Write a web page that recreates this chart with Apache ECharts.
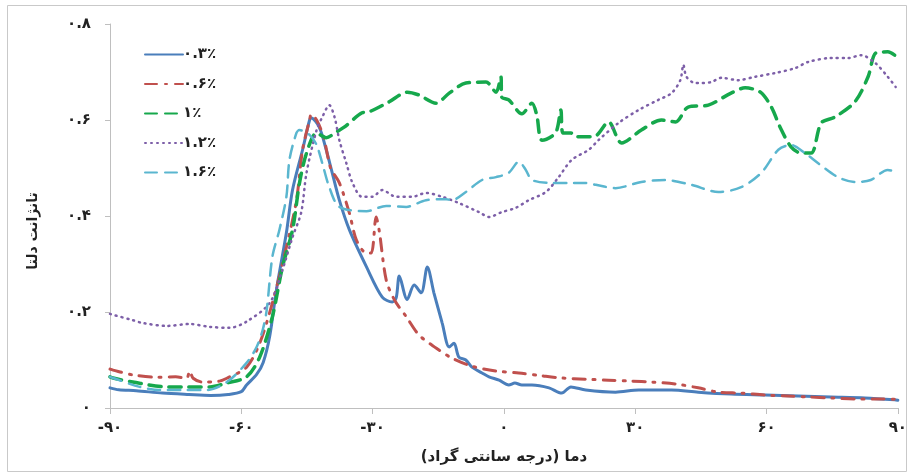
<!DOCTYPE html>
<html>
<head>
<meta charset="utf-8">
<script src="https://cdn.jsdelivr.net/npm/echarts@6/dist/echarts.min.js"></script>
<style>
html,body{margin:0;padding:0;background:#fff;}
#chart{width:910px;height:475px;}
</style>
</head>
<body>
<div id="chart"></div>
<script>
// Tick labels (Persian digits)
const xTickLabels = {'-90':'-۹۰','-60':'-۶۰','-30':'-۳۰','0':'۰','30':'۳۰','60':'۶۰','90':'۹۰'};
const yTickLabels = {'0':'۰','0.2':'۰.۲','0.4':'۰.۴','0.6':'۰.۶','0.8':'۰.۸'};
const seriesNames = ['۰.۳٪','۰.۶٪','۱٪','۱.۲٪','۱.۶٪'];

// [temperature °C, tan delta]
const s03 = [[-90,0.042],[-88,0.038],[-84,0.036],[-78,0.031],[-72,0.028],[-67,0.026],[-63,0.028],[-60,0.034],
  [-58.8,0.048],[-56.5,0.07],[-55,0.095],[-53.5,0.15],[-52,0.245],[-49.7,0.365],[-48.3,0.454],[-46,0.538],
  [-44.4,0.60],[-44,0.604],[-42.2,0.585],[-40.6,0.538],[-39.4,0.496],[-37.6,0.433],[-35.3,0.371],[-31.4,0.294],
  [-27.8,0.231],[-25.5,0.221],[-24.6,0.23],[-23.9,0.275],[-22.1,0.226],[-20.5,0.256],[-18.9,0.24],[-17.5,0.294],
  [-16.0,0.24],[-14.1,0.177],[-12.5,0.127],[-11.4,0.135],[-10.3,0.106],[-8.7,0.10],[-7.3,0.085],[-5,0.073],
  [-3.4,0.065],[-1.1,0.058],[1.1,0.048],[2.5,0.052],[4.1,0.048],[6.4,0.048],[10.3,0.042],[13.2,0.031],
  [15.3,0.044],[18.7,0.0375],[25.5,0.033],[30.8,0.0375],[38.3,0.0375],[44.4,0.033],[51.9,0.029],[59.7,0.027],
  [67.2,0.025],[74.7,0.023],[82.5,0.021],[89.3,0.017],[90,0.016]];
const s06 = [[-90,0.081],[-89.3,0.079],[-84.8,0.069],[-79.3,0.064],[-75,0.065],[-72.5,0.062],[-71.8,0.077],[-71,0.062],
  [-68.8,0.054],[-65,0.056],[-63.3,0.062],[-58.8,0.085],[-55.8,0.135],[-52.9,0.219],[-49.7,0.335],[-47.4,0.433],
  [-46,0.538],[-44.4,0.60],[-44,0.612],[-42.8,0.60],[-41.2,0.565],[-39.6,0.50],[-37.6,0.469],[-35.3,0.406],
  [-33.7,0.35],[-31.4,0.323],[-30.3,0.323],[-29.2,0.398],[-28.5,0.37],[-26.9,0.267],[-25,0.225],[-22.3,0.19],
  [-19.4,0.152],[-15.5,0.125],[-11.9,0.104],[-7.3,0.087],[-1.8,0.077],[3.4,0.073],[8.7,0.067],[13.2,0.0625],
  [18.7,0.06],[23.9,0.058],[29.2,0.056],[33.7,0.054],[39.2,0.05],[44.4,0.042],[49,0.033],[54.2,0.031],
  [59.7,0.027],[64.9,0.025],[69.5,0.023],[74.7,0.021],[80.2,0.019],[84.8,0.019],[90,0.018]];
const s10 = [[-90,0.065],[-89.3,0.0625],[-84.8,0.054],[-77,0.044],[-72.5,0.044],[-67.2,0.044],[-63.3,0.052],
  [-58.8,0.065],[-55.8,0.106],[-52.9,0.19],[-50.6,0.294],[-48.3,0.371],[-46.7,0.469],[-45.1,0.531],[-42.8,0.573],
  [-40.6,0.563],[-38.3,0.575],[-36.5,0.585],[-32.4,0.615],[-30.8,0.617],[-26.2,0.638],[-22.1,0.658],[-19.4,0.652],
  [-15.5,0.635],[-12.5,0.656],[-8.7,0.677],[-4.1,0.679],[-1.8,0.658],[-0.7,0.69],[-0.5,0.648],[1.1,0.642],
  [4.1,0.613],[6.4,0.635],[7.5,0.61],[8.7,0.558],[11.8,0.573],[13.0,0.621],[13.5,0.573],[15.3,0.573],
  [16.4,0.565],[20.5,0.565],[23.9,0.596],[26.9,0.552],[31.4,0.579],[36.0,0.60],[39.2,0.596],[42.1,0.627],
  [46.7,0.631],[51.9,0.656],[55.1,0.667],[58.6,0.658],[61.1,0.627],[63.1,0.585],[65.6,0.544],[67.9,0.531],
  [70.2,0.531],[72.5,0.594],[75.6,0.606],[80.2,0.638],[83.2,0.69],[85.0,0.74],[87.7,0.742],[90,0.73]];
const s12 = [[-90,0.196],[-89.3,0.194],[-84.8,0.183],[-82.5,0.177],[-77,0.171],[-71.8,0.175],[-67.2,0.169],
  [-62.7,0.167],[-58.8,0.18],[-53.5,0.219],[-50.6,0.288],[-48.3,0.356],[-46.3,0.408],[-45.1,0.49],[-42.8,0.579],
  [-41.5,0.606],[-39.9,0.631],[-38.7,0.606],[-37.6,0.558],[-36,0.51],[-34.6,0.469],[-32.4,0.44],[-30.1,0.44],
  [-27.8,0.454],[-24.6,0.44],[-21,0.44],[-17.8,0.448],[-14.1,0.44],[-10.3,0.427],[-5.7,0.408],[-3.4,0.398],
  [-0.5,0.408],[2.7,0.417],[5.7,0.433],[9.6,0.45],[12.5,0.481],[15.5,0.517],[19.4,0.538],[21.6,0.558],
  [26.2,0.594],[30.8,0.621],[35.3,0.642],[38.3,0.656],[40.3,0.683],[41,0.715],[41.7,0.69],[43.7,0.677],
  [45.1,0.677],[47.4,0.679],[49.7,0.688],[53.5,0.683],[57.4,0.69],[62,0.698],[66.5,0.708],[69.5,0.721],
  [74.7,0.729],[78.6,0.729],[81.6,0.735],[84.8,0.719],[87.7,0.69],[89.5,0.669]];
const s16 = [[-90,0.065],[-89.3,0.0625],[-83.2,0.044],[-78.6,0.0375],[-73.4,0.0375],[-67.9,0.0375],[-63.3,0.054],
  [-58.8,0.094],[-56.5,0.127],[-55.1,0.163],[-54.2,0.204],[-52.9,0.315],[-51.3,0.371],[-49.7,0.44],[-49.0,0.517],
  [-47.4,0.573],[-46.7,0.579],[-44.4,0.569],[-42.8,0.548],[-41.5,0.51],[-39.9,0.46],[-37.6,0.419],[-31.4,0.41],
  [-26.9,0.421],[-22.3,0.419],[-17.8,0.433],[-13.2,0.435],[-11.9,0.433],[-8.7,0.45],[-5,0.475],[-1.8,0.481],
  [1.1,0.49],[3.4,0.513],[5,0.496],[6.4,0.475],[10.9,0.469],[14.8,0.469],[18.7,0.469],[21,0.465],[25.5,0.458],
  [31.4,0.471],[36.9,0.475],[42.8,0.465],[49,0.45],[54.2,0.46],[58.8,0.49],[62.7,0.538],[65.6,0.548],
  [68.8,0.531],[71.8,0.51],[76.3,0.481],[80.2,0.471],[83.8,0.475],[87.7,0.496],[90,0.49]];

const chart = echarts.init(document.getElementById('chart'));
const FONT = 'DejaVu Sans';
function line(name, data, color, width, type) {
  return {name, type:'line', data, showSymbol:false, symbol:'none', smooth:0.3,
    lineStyle:{color, width, type, cap:'round'}, itemStyle:{color}};
}
chart.setOption({
  animation:false,
  backgroundColor:'#fff',
  graphic:[{type:'rect', shape:{x:7.5,y:5.5,width:899,height:466}, style:{fill:'none', stroke:'#c9c9c9', lineWidth:1}, silent:true}],
  grid:{left:110, right:10, top:24, bottom:67},
  legend:{orient:'vertical', left:139, top:42, itemWidth:38, itemHeight:14, itemGap:14.5,
    itemStyle:{opacity:0},
    textStyle:{fontFamily:FONT, fontWeight:'bold', fontSize:15, color:'#222', padding:[0,0,0,-5]},
    data:seriesNames},
  xAxis:{type:'value', min:-90, max:90, interval:30,
    axisLine:{onZero:false, lineStyle:{color:'#bfbfbf'}}, axisTick:{length:6, lineStyle:{color:'#bfbfbf'}},
    splitLine:{show:false},
    axisLabel:{margin:13, fontFamily:FONT, fontWeight:'bold', fontSize:15, color:'#222',
      formatter:v => xTickLabels[String(v)]},
    name:'دما (درجه سانتی گراد)', nameLocation:'middle', nameGap:42,
    nameTextStyle:{fontFamily:FONT, fontWeight:'bold', fontSize:15, color:'#222'}},
  yAxis:{type:'value', min:0, max:0.8, interval:0.2,
    axisLine:{show:true, onZero:false, lineStyle:{color:'#bfbfbf'}}, axisTick:{show:true, length:5, lineStyle:{color:'#bfbfbf'}},
    splitLine:{show:false},
    axisLabel:{margin:19, fontFamily:FONT, fontWeight:'bold', fontSize:15, color:'#222',
      formatter:v => yTickLabels[String(Math.round(v*10)/10)]},
    name:'تانژانت دلتا', nameLocation:'middle', nameGap:70, nameRotate:90,
    nameTextStyle:{fontFamily:FONT, fontWeight:'bold', fontSize:14, color:'#222', padding:[0,0,0,-30]}},
  series:[
    line(seriesNames[0], s03, '#4a7ebb', 3, 'solid'),
    line(seriesNames[1], s06, '#c0504d', 3, [12,8,2,8]),
    line(seriesNames[2], s10, '#16a84c', 3.5, [12,8]),
    line(seriesNames[3], s12, '#7d5fa8', 2.5, [1,5]),
    line(seriesNames[4], s16, '#5ab6cf', 2.5, [12,8])
  ]
});
</script>
</body>
</html>
